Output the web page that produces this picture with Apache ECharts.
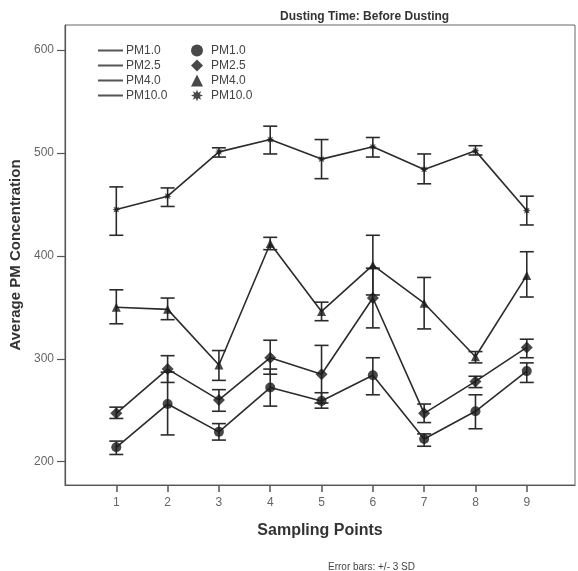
<!DOCTYPE html>
<html><head><meta charset="utf-8">
<script src="https://cdn.jsdelivr.net/npm/echarts@6/dist/echarts.min.js"></script>
<style>html,body{margin:0;padding:0;background:#fff;}#c{width:578px;height:571px;}</style>
</head><body><div id="c"></div>
<script>
// ---- data ----
const samplingPoints = [1, 2, 3, 4, 5, 6, 7, 8, 9];
const yTicks = [200, 300, 400, 500, 600];
const seriesNames = ['PM1.0', 'PM2.5', 'PM4.0', 'PM10.0'];
const pm1Mean = [214, 256, 229, 272, 259, 284, 222, 249, 288];
const pm1Low  = [207, 226, 221, 254, 252, 265, 215, 232, 277];
const pm1High = [220, 287, 237, 290, 267, 301, 227, 265, 296];
const pm25Mean = [247, 290, 260, 301, 285, 359, 247, 278, 311];
const pm25Low  = [242, 277, 249, 285, 257, 330, 238, 272, 301];
const pm25High = [253, 303, 270, 318, 313, 388, 256, 283, 319];
const pm4Mean = [350, 348, 294, 412, 346, 391, 354, 302, 381];
const pm4Low  = [334, 338, 279, 406, 337, 362, 329, 296, 360];
const pm4High = [367, 359, 308, 418, 355, 420, 379, 307, 404];
const pm10Mean = [445, 458, 501, 513, 494, 506, 484, 502, 444];
const pm10Low  = [420, 448, 496, 499, 475, 496, 470, 498, 430];
const pm10High = [467, 466, 505, 526, 513, 515, 499, 507, 458];

// ---- styling ----
const INK = '#2b2b2b';
const FONT = 'Liberation Sans, Arial, sans-serif';
function starPath(n, rOut, rIn) {
  let d = '';
  for (let i = 0; i < n * 2; i++) {
    const r = i % 2 === 0 ? rOut : rIn;
    const a = Math.PI * i / n - Math.PI / 2;
    d += (i === 0 ? 'M' : 'L') + (r * Math.cos(a)).toFixed(3) + ',' + (r * Math.sin(a)).toFixed(3);
  }
  return 'path://' + d + 'Z';
}
const STAR = starPath(8, 1, 0.5);
const symbols = ['circle', 'diamond', 'triangle', STAR];
const symbolSizes = [10, 12, 9, 8];
const means = [pm1Mean, pm25Mean, pm4Mean, pm10Mean];
const lows = [pm1Low, pm25Low, pm4Low, pm10Low];
const highs = [pm1High, pm25High, pm4High, pm10High];

const series = [];
seriesNames.forEach((n, k) => {
  series.push({
    name: n, type: 'line', symbol: 'none', z: 2,
    lineStyle: { color: INK, width: 1.6 }, itemStyle: { color: INK },
    data: samplingPoints.map((x, i) => [x, means[k][i]])
  });
});
seriesNames.forEach((n, k) => {
  series.push({
    name: n + ' ', type: 'scatter', symbol: symbols[k], symbolSize: symbolSizes[k], z: 4,
    itemStyle: { color: '#1a1a1a' },
    data: samplingPoints.map((x, i) => [x, means[k][i]])
  });
});
seriesNames.forEach((n, k) => {
  series.push({
    type: 'custom', z: 3, silent: true,
    data: samplingPoints.map((x, i) => [x, lows[k][i], highs[k][i]]),
    renderItem: function (params, api) {
      const x = api.value(0);
      const lo = api.coord([x, api.value(1)]);
      const hi = api.coord([x, api.value(2)]);
      const w = 7;
      const st = { stroke: INK, lineWidth: 1.6 };
      return { type: 'group', children: [
        { type: 'line', shape: { x1: lo[0], y1: lo[1], x2: hi[0], y2: hi[1] }, style: st },
        { type: 'line', shape: { x1: hi[0] - w, y1: hi[1], x2: hi[0] + w, y2: hi[1] }, style: st },
        { type: 'line', shape: { x1: lo[0] - w, y1: lo[1], x2: lo[0] + w, y2: lo[1] }, style: st }
      ]};
    }
  });
});

const chart = echarts.init(document.getElementById('c'), null, { renderer: 'canvas' });
chart.setOption({
  backgroundColor: '#fff',
  animation: false,
  textStyle: { fontFamily: FONT },
  title: [
    { text: 'Dusting Time: Before Dusting', left: 275, top: 6,
      textStyle: { fontFamily: FONT, fontSize: 12, fontWeight: 'bold', color: '#333' } },
    { text: 'Error bars: +/- 3 SD', left: 323, top: 557,
      textStyle: { fontFamily: FONT, fontSize: 10, fontWeight: 'normal', color: '#444' } }
  ],
  legend: [
    { orient: 'vertical', left: 93, top: 38, itemGap: 0, itemWidth: 25, itemHeight: 2,
      icon: 'rect', data: seriesNames, selectedMode: false,
      itemStyle: { color: '#555' },
      textStyle: { fontFamily: FONT, fontSize: 12, color: '#444', lineHeight: 15, padding: [0, 0, 0, -2] } },
    { orient: 'vertical', left: 186, top: 38, itemGap: 0, itemWidth: 12, itemHeight: 12,
      data: seriesNames.map((n, k) => ({ name: n + ' ', icon: symbols[k] })), selectedMode: false,
      formatter: s => s.trim(),
      itemStyle: { color: '#1a1a1a' },
      textStyle: { fontFamily: FONT, fontSize: 12, color: '#444', lineHeight: 15, padding: [0, 0, 0, 3] } }
  ],
  grid: { left: 65, right: 3, top: 25, bottom: 86, show: true, borderColor: '#666', borderWidth: 1, backgroundColor: '#fff' },
  xAxis: {
    type: 'value', min: 0, max: 9.94,
    name: 'Sampling Points', nameLocation: 'middle', nameGap: 38,
    nameTextStyle: { fontFamily: FONT, fontSize: 16, fontWeight: 'bold', color: '#333' },
    axisLine: { show: true, lineStyle: { color: '#555', width: 1.2 } },
    axisTick: { show: true, length: 7, customValues: samplingPoints, lineStyle: { color: '#555', width: 1.5 } },
    axisLabel: { customValues: samplingPoints, fontSize: 12, color: '#666', margin: 12, fontFamily: FONT },
    splitLine: { show: false }
  },
  yAxis: {
    type: 'value', min: 177.35, max: 624.3,
    name: 'Average PM Concentration', nameLocation: 'middle', nameGap: 37, nameRotate: 90,
    nameTextStyle: { fontFamily: FONT, fontSize: 15, fontWeight: 'bold', color: '#333' },
    axisLine: { show: true, lineStyle: { color: '#555', width: 1.2 } },
    axisTick: { show: true, length: 8, customValues: yTicks, lineStyle: { color: '#555', width: 1.2 } },
    axisLabel: { customValues: yTicks, fontSize: 12, color: '#666', margin: 11, fontFamily: FONT },
    splitLine: { show: false }
  },
  series: series
});
</script></body></html>
